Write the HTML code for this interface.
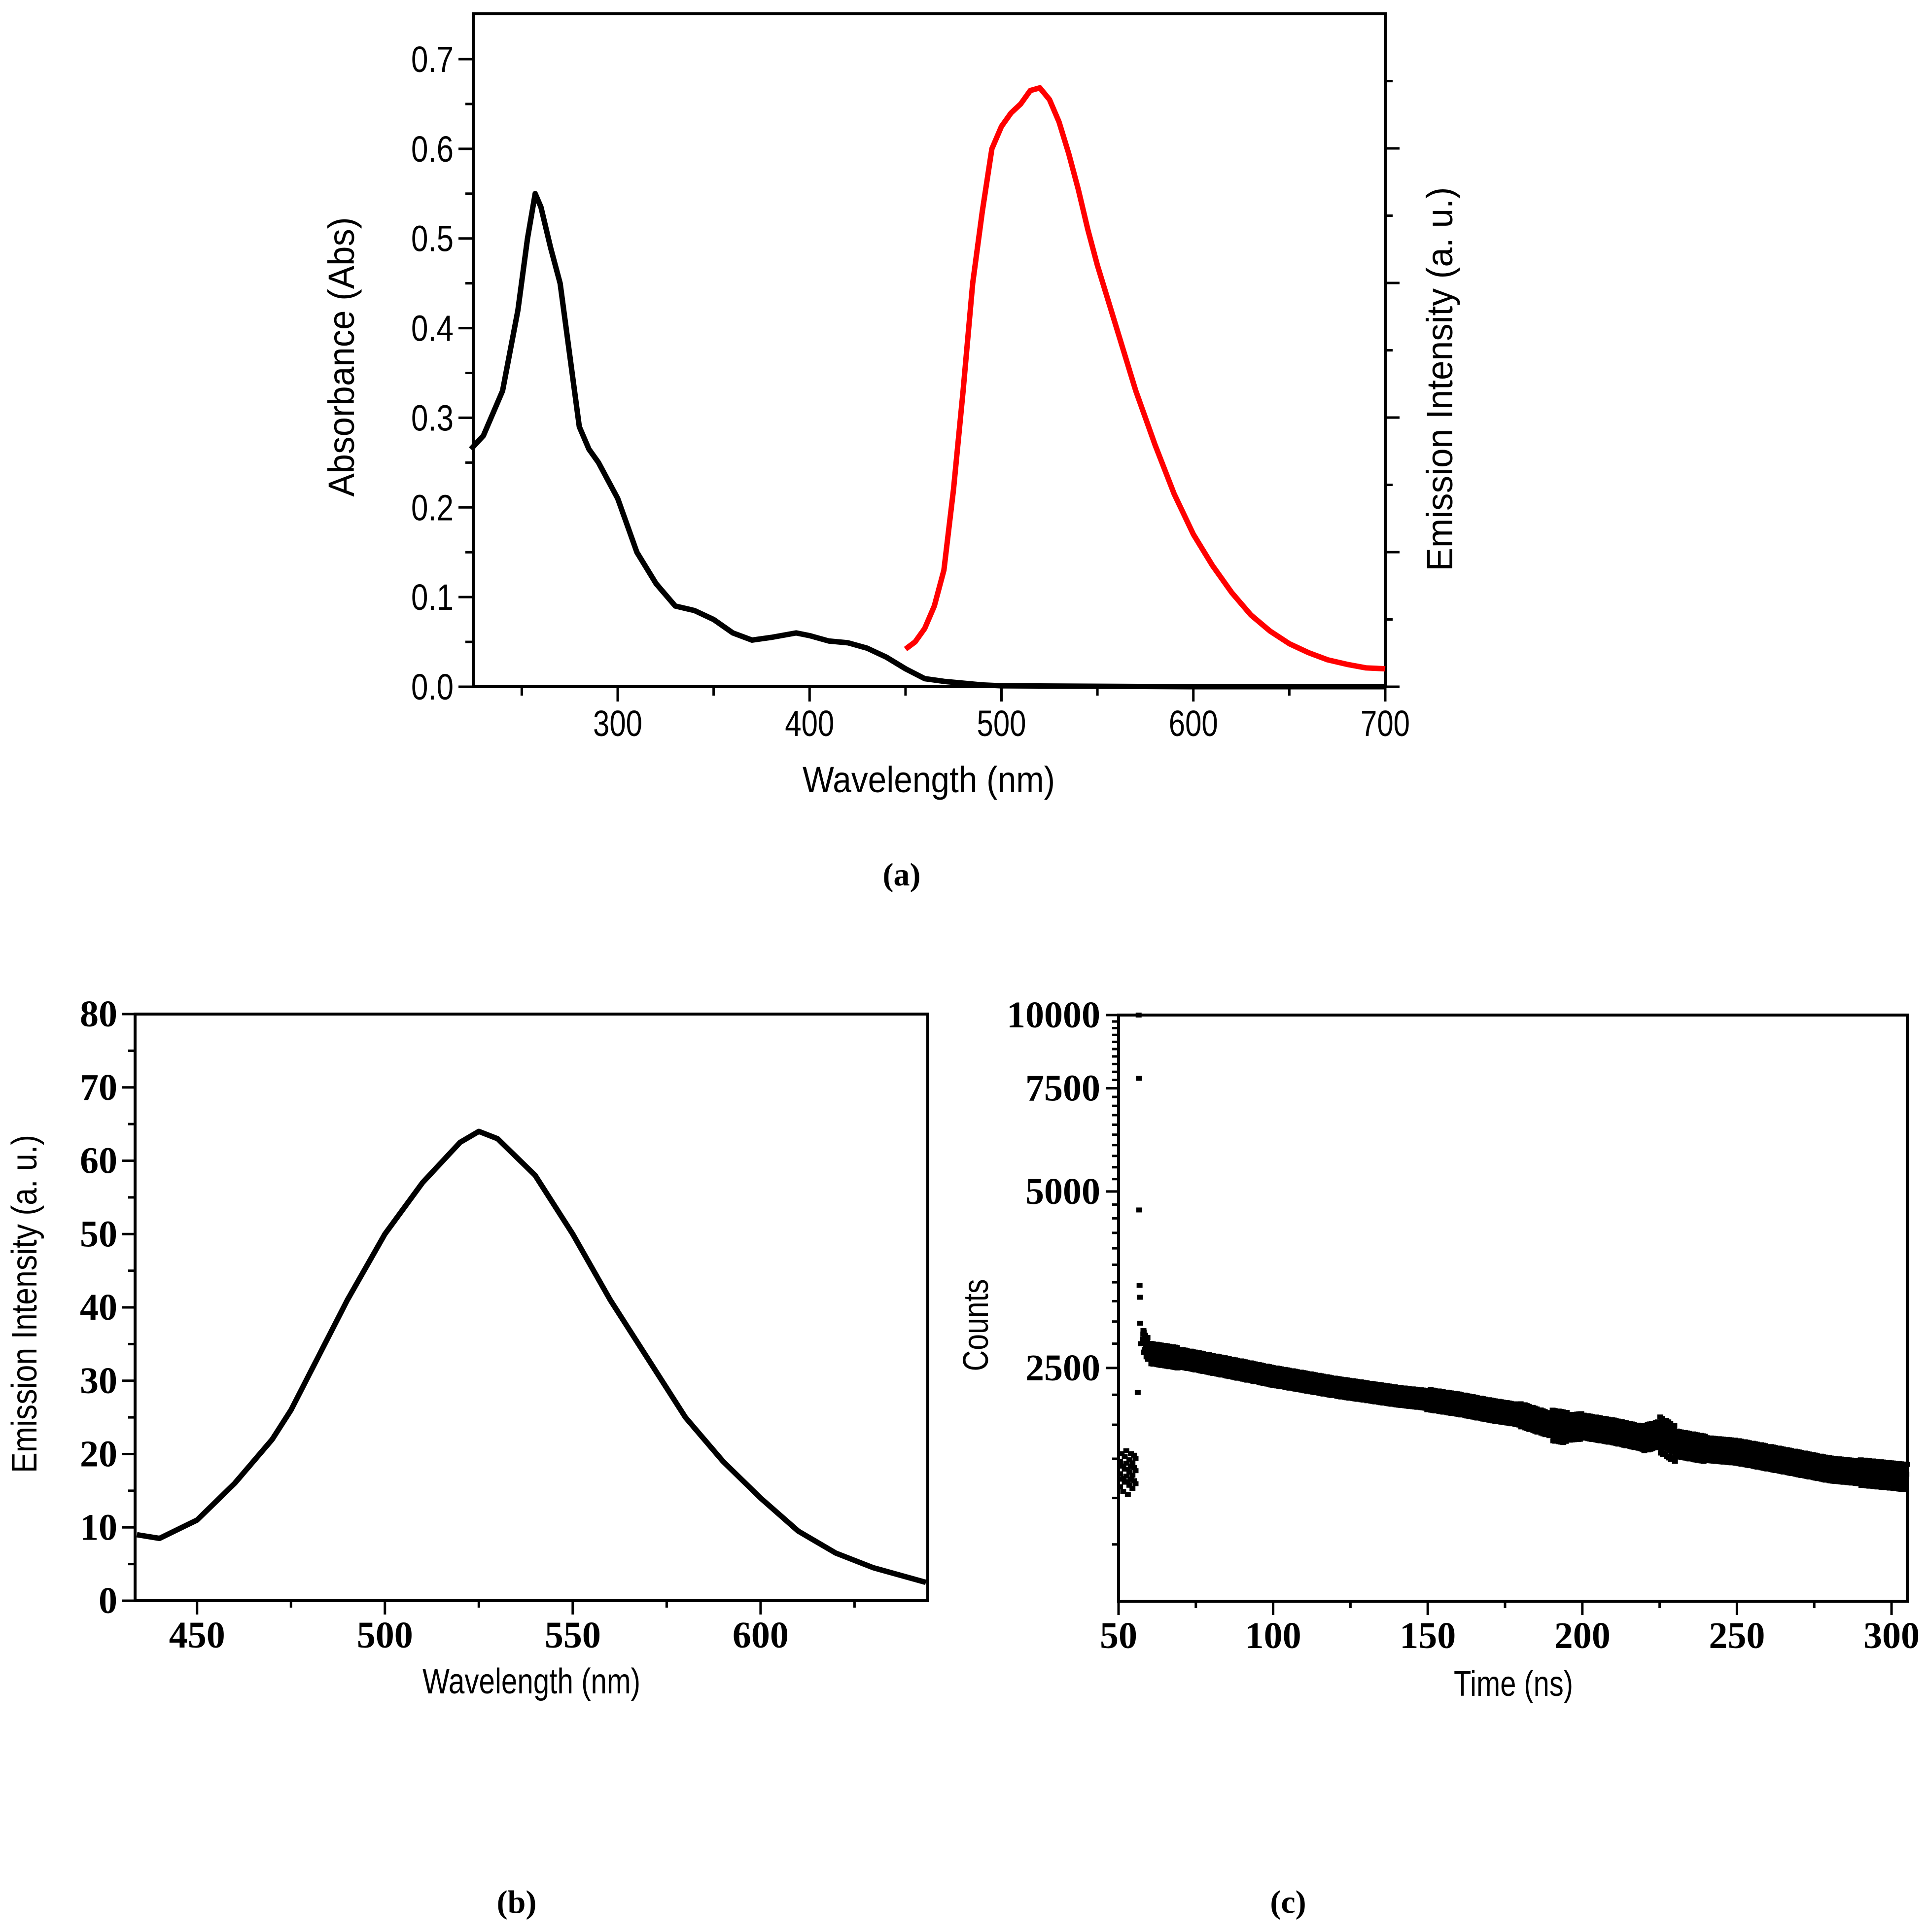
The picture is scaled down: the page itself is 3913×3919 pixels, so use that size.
<!DOCTYPE html>
<html><head><meta charset="utf-8"><style>
html,body{margin:0;padding:0;background:#fff;}
svg{display:block;}
.ta{font-family:"Liberation Sans Narrow","Liberation Sans",sans-serif;font-size:74px;}
.tb{font-family:"Liberation Serif",serif;font-weight:bold;font-size:76px;}
.ti{font-family:"Liberation Sans Narrow","Liberation Sans",sans-serif;font-size:72px;}
.tl{font-family:"Liberation Serif",serif;font-size:66px;font-weight:bold;}
</style></head><body>
<svg id="fig" xmlns="http://www.w3.org/2000/svg" width="3913" height="3919" viewBox="0 0 3913 3919">
<rect width="3913" height="3919" fill="#fff"/>
<g id="ga"></g>
<g id="gb"></g>
<g id="gc"></g>
<text class="tl" x="1829" y="1796" text-anchor="middle">(a)</text>
<text class="tl" x="1048" y="3880" text-anchor="middle">(b)</text>
<text class="tl" x="2613" y="3880" text-anchor="middle">(c)</text>
</svg>
<script>
// Panel (a) data
const absX = [223,230,240,248,253,257,260,265,270,275,280,285,290,300,310,320,330,340,350,360,370,380,393,400,410,420,430,440,450,460,470,480,490,500,600,700];
const absY = [0.265,0.28,0.33,0.42,0.50,0.55,0.535,0.49,0.45,0.37,0.29,0.265,0.25,0.21,0.15,0.115,0.09,0.085,0.075,0.06,0.052,0.055,0.06,0.057,0.051,0.049,0.043,0.033,0.02,0.009,0.006,0.004,0.002,0.001,0.0,0.0];
const emX = [450,455,460,465,470,475,480,485,490,495,500,505,510,515,520,525,530,535,540,545,550,560,570,580,590,600,610,620,630,640,650,660,670,680,690,700];
const emY = [0.042,0.05,0.065,0.09,0.13,0.22,0.33,0.45,0.53,0.6,0.625,0.64,0.65,0.665,0.668,0.655,0.63,0.595,0.555,0.51,0.47,0.4,0.33,0.27,0.215,0.17,0.135,0.105,0.08,0.062,0.048,0.038,0.03,0.025,0.021,0.02];
const aXTicks = [300,400,500,600,700];
const aYTicks = [0,0.1,0.2,0.3,0.4,0.5,0.6,0.7];
// Panel (b) data
const bX = [434,440,450,460,470,475,480,490,500,510,520,525,530,540,550,560,570,575,580,590,600,610,620,630,644];
const bY = [9,8.5,11,16,22,26,31,41,50,57,62.5,64,63,58,50,41,33,29,25,19,14,9.5,6.5,4.5,2.5];
const bXTicks = [450,500,550,600];
const bYTicks = [0,10,20,30,40,50,60,70,80];
// Panel (c) data: decay centre per time, spread
const cT = [58,60,70,80,90,100,110,120,130,140,150,160,170,180,190,195,200,210,220,225,230,240,250,260,270,280,290,300,305];
const cC = [2800,2650,2600,2540,2480,2420,2370,2320,2280,2240,2210,2170,2120,2080,2000,1980,1990,1950,1900,1930,1860,1820,1800,1760,1720,1680,1660,1640,1630];
const cSpread = [0.04,0.04,0.035,0.035,0.035,0.035,0.035,0.035,0.035,0.035,0.04,0.04,0.04,0.045,0.06,0.05,0.045,0.045,0.05,0.07,0.05,0.045,0.045,0.045,0.045,0.045,0.05,0.05,0.05];
const spikeT = [56.5,56.6,56.7,56.8,56.9,57,57.2,56.2];
const spikeC = [10000,7800,4650,3460,3300,2980,2750,2270];
const preT = [50.5,51,51.5,52,52.5,53,53.5,54,54.5,55,55.5];
const preC = [1650,1700,1620,1680,1720,1600,1660,1700,1640,1690,1670];
const cXTicks = [50,100,150,200,250,300];
const cYTicks = [2500,5000,7500,10000];

const NS='http://www.w3.org/2000/svg';
function mk(parent,tag,attrs){const e=document.createElementNS(NS,tag);for(const k in attrs)e.setAttribute(k,attrs[k]);parent.appendChild(e);return e;}

// ---- Panel a ----
const ga=document.getElementById('ga');
const aL=960,aR=2810,aT=28,aB=1393;
const ax=v=>1253+(v-300)*(aR-1253)/400;
const ay=v=>aB-v*(aB-120)/0.7;
let fr=mk(ga,'rect',{x:aL,y:aT,width:aR-aL,height:aB-aT,fill:'none',stroke:'#000','stroke-width':6});

for(let v=250;v<=700;v+=50){const l=mk(ga,'line',{x1:ax(v),x2:ax(v),y1:aB,y2:aB+(v%100===0?30:18),stroke:'#000','stroke-width':5});
}
aXTicks.forEach(v=>{const t=mk(ga,'text',{x:ax(v),y:aB+100,'text-anchor':'middle',class:'ta',textLength:100,lengthAdjust:'spacingAndGlyphs'});t.textContent=v;
});
for(let i=0;i<=14;i++){const v=i*0.05;const l=mk(ga,'line',{x1:aL-(i%2===0?30:16),x2:aL,y1:ay(v),y2:ay(v),stroke:'#000','stroke-width':5});
}
aYTicks.forEach(v=>{const t=mk(ga,'text',{x:aL-40,y:ay(v)+26,'text-anchor':'end',class:'ta',textLength:86,lengthAdjust:'spacingAndGlyphs'});t.textContent=v.toFixed(1);
});
for(let i=0;i<10;i++){const y=aB-i*136.5;const l=mk(ga,'line',{x1:aR,x2:aR+(i%2===0?29:15),y1:y,y2:y,stroke:'#000','stroke-width':5});
}
let p=mk(ga,'polyline',{points:absX.map((x,i)=>ax(Math.max(x,223.5))+','+ay(absY[i])).join(' '),fill:'none',stroke:'#000','stroke-width':11,'stroke-linejoin':'round'});

p=mk(ga,'polyline',{points:emX.map((x,i)=>ax(x)+','+ay(emY[i])).join(' '),fill:'none',stroke:'#ff0000','stroke-width':11,'stroke-linejoin':'round'});

let t=mk(ga,'text',{x:1884,y:1607,'text-anchor':'middle',class:'ta',textLength:512,lengthAdjust:'spacingAndGlyphs'});t.textContent='Wavelength (nm)';

t=mk(ga,'text',{x:0,y:0,'text-anchor':'middle',class:'ta',textLength:567,lengthAdjust:'spacingAndGlyphs',transform:'translate(718,724) rotate(-90)'});t.textContent='Absorbance (Abs)';

t=mk(ga,'text',{x:0,y:0,'text-anchor':'middle',class:'ta',textLength:779,lengthAdjust:'spacingAndGlyphs',transform:'translate(2946,769) rotate(-90)'});t.textContent='Emission Intensity (a. u.)';


// ---- Panel b ----
const gb=document.getElementById('gb');
const bL=274,bR=1882,bT=2057,bB=3247;
const bxs=(v)=>bL+(v-433.5)*(bR-bL)/(644.5-433.5);
const by=v=>bB-v*(bB-bT)/80;
fr=mk(gb,'rect',{x:bL,y:bT,width:bR-bL,height:bB-bT,fill:'none',stroke:'#000','stroke-width':6});

for(let v=450;v<=625;v+=25){const l=mk(gb,'line',{x1:bxs(v),x2:bxs(v),y1:bB,y2:bB+(v%50===0?28:14),stroke:'#000','stroke-width':5});
}
bXTicks.forEach(v=>{const e=mk(gb,'text',{x:bxs(v),y:bB+95,'text-anchor':'middle',class:'tb'});e.textContent=v;
});
for(let v=0;v<=80;v+=5){const l=mk(gb,'line',{x1:bL-(v%10===0?26:14),x2:bL,y1:by(v),y2:by(v),stroke:'#000','stroke-width':5});
}
bYTicks.forEach(v=>{const e=mk(gb,'text',{x:bL-36,y:by(v)+25,'text-anchor':'end',class:'tb'});e.textContent=v;
});
p=mk(gb,'polyline',{points:bX.map((x,i)=>bxs(x)+','+by(bY[i])).join(' '),fill:'none',stroke:'#000','stroke-width':11,'stroke-linejoin':'round'});

t=mk(gb,'text',{x:1078,y:3435,'text-anchor':'middle',class:'ti',textLength:442,lengthAdjust:'spacingAndGlyphs'});t.textContent='Wavelength (nm)';

t=mk(gb,'text',{x:0,y:0,'text-anchor':'middle',class:'ti',textLength:686,lengthAdjust:'spacingAndGlyphs',transform:'translate(74,2645) rotate(-90)'});t.textContent='Emission Intensity (a. u.)';


// ---- Panel c ----
const gc=document.getElementById('gc');
const cL=2269,cR=3869,cT2=2059,cB=3248;
const cx=v=>cL+(v-50)*(3837-cL)/250;
const cy=v=>cT2+(4-Math.log10(v))*(cB-cT2);
fr=mk(gc,'rect',{x:cL,y:cT2,width:cR-cL,height:cB-cT2,fill:'none',stroke:'#000','stroke-width':6});

for(let v=50;v<=300;v+=25){const l=mk(gc,'line',{x1:cx(v),x2:cx(v),y1:cB,y2:cB+(v%50===0?28:14),stroke:'#000','stroke-width':5});
}
cXTicks.forEach(v=>{const e=mk(gc,'text',{x:cx(v),y:cB+95,'text-anchor':'middle',class:'tb'});e.textContent=v;
});
for(let v=1250;v<=10000;v+=250){const maj=v%2500===0;const l=mk(gc,'line',{x1:cL-(maj?26:13),x2:cL,y1:cy(v),y2:cy(v),stroke:'#000','stroke-width':5});
}
cYTicks.forEach(v=>{const e=mk(gc,'text',{x:2232,y:cy(v)+25,'text-anchor':'end',class:'tb'});e.textContent=v;
});
const offs=[0,0.7,-0.6,0.3,-0.9,1,-0.3,0.5,-0.5,0.8,-1,0.2,-0.2];
function dot(t,c){const d=mk(gc,'rect',{x:cx(t)-6,y:cy(c)-5,width:12,height:10,fill:'#000'});
}
for(let i=0;i<cT.length-1;i++){
  const n=Math.round((cT[i+1]-cT[i])*5);
  for(let k=0;k<n;k++){const f=k/n;const tt=cT[i]+f*(cT[i+1]-cT[i]);
    const c=cC[i]*Math.pow(cC[i+1]/cC[i],f);const s=cSpread[i];
    for(let j=0;j<3;j++){const o=offs[(k*5+j*7+i)%offs.length];dot(tt+(j-1)*0.15,c*(1+s*o));}
  }
}
spikeT.forEach((tt,i)=>dot(tt,spikeC[i]));
preT.forEach((tt,i)=>{dot(tt,preC[i]);dot(tt,preC[i]*1.05);dot(tt,preC[i]*0.95);});
t=mk(gc,'text',{x:3070,y:3440,'text-anchor':'middle',class:'ti',textLength:242,lengthAdjust:'spacingAndGlyphs'});t.textContent='Time (ns)';

t=mk(gc,'text',{x:0,y:0,'text-anchor':'middle',class:'ti',textLength:187,lengthAdjust:'spacingAndGlyphs',transform:'translate(2004,2688) rotate(-90)'});t.textContent='Counts';

</script>
</body></html>
